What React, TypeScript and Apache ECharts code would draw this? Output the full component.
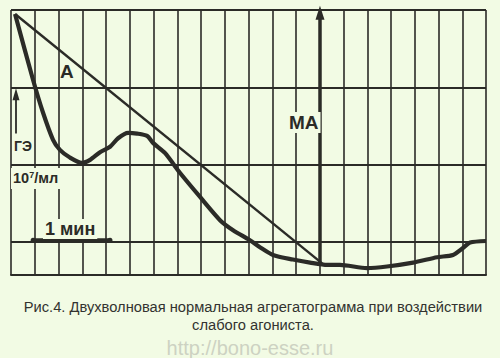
import React, { useEffect, useRef } from "react";
import * as echarts from "echarts";

// Trace of the aggregatogram (x: grid columns, y: grid units downward from the top line)
const traceX = [0.17, 0.93, 1.35, 1.77, 2.06, 2.48, 2.99, 3.33, 3.75, 4.17, 4.51, 4.93, 5.31, 5.73, 5.98, 6.48, 7.12, 7.96, 8.8, 9.35, 10.06, 10.48, 11.03, 11.87, 12.59, 13.31, 13.85, 14.99, 15.83, 16.93, 17.94, 18.61, 19.03, 19.33, 20.0];
const traceY = [0.52, 9.06, 13.3, 16.8, 18.1, 19.1, 19.8, 19.4, 18.4, 17.7, 16.6, 15.9, 16.0, 16.3, 17.2, 18.5, 21.1, 24.2, 27.2, 28.5, 29.8, 30.7, 31.7, 32.3, 32.7, 33.0, 33.0, 33.4, 33.2, 32.7, 32.0, 31.7, 30.8, 30.1, 29.9];

// Straight line "A"
const lineAX = [0.17, 13.1];
const lineAY = [0.52, 32.8];

// Arrow "MA"
const maX = 13.01;
const maY = [32.7, 0.35];

// Arrow near "ГЭ"
const geX = 0.21;
const geY = [16.0, 10.9];

// "1 мин" scale bar
const barX = [0.93, 4.17];
const barY = 29.8;

const X_MIN = 0;
const X_MAX = 20;
const Y_MIN = 0;
const Y_MAX = 34.3;

const labelA = "А";
const labelMA = "МА";
const labelGE = "ГЭ";
const labelBar = "1 мин";
const caption1 = "Рис.4. Двухволновая нормальная агрегатограмма при воздействии";
const caption2 = "слабого агониста.";
const watermark = "http://bono-esse.ru";

const BG = "#f2fbe4";
const INK = "#2b2b27";
const FONT = "'Liberation Sans', Arial, sans-serif";

export default function App() {
  const ref = useRef<HTMLDivElement>(null);
  useEffect(() => {
    document.body.style.margin = "0";
    document.body.style.background = BG;
    const chart = echarts.init(ref.current!, undefined, { renderer: "svg" });
    const txt = (text: string, x: number, y: number, font: string, fill: string, align = "left", bg?: string, extra: any = {}) => ({
      type: "text",
      x,
      y,
      z: 100,
      style: {
        text,
        font,
        fill,
        align,
        verticalAlign: "top",
        textAlign: align,
        textVerticalAlign: "top",
        backgroundColor: bg,
        padding: bg ? [1, 2] : 0,
        ...extra,
      },
    });
    chart.setOption({
      animation: false,
      backgroundColor: BG,
      grid: { left: 11, right: 14, top: 10, bottom: 83 },
      xAxis: {
        type: "value",
        min: X_MIN,
        max: X_MAX,
        interval: 1,
        axisLine: { show: true, onZero: false, lineStyle: { color: INK, width: 2 } },
        axisTick: { show: false },
        axisLabel: { show: false },
        splitLine: { show: true, lineStyle: { color: INK, width: 1.6 } },
      },
      yAxis: {
        type: "value",
        inverse: true,
        min: Y_MIN,
        max: Y_MAX,
        interval: 10,
        axisLine: { show: false },
        axisTick: { show: false },
        axisLabel: { show: false },
        splitLine: { show: true, lineStyle: { color: INK, width: 1.8 } },
      },
      series: [
        {
          type: "line",
          data: lineAX.map((x, i) => [x, lineAY[i]]),
          symbol: "none",
          lineStyle: { color: INK, width: 2.4 },
          z: 3,
        },
        {
          type: "line",
          data: traceX.map((x, i) => [x, traceY[i]]),
          symbol: "none",
          smooth: 0.25,
          lineStyle: { color: INK, width: 4.2 },
          z: 4,
          markLine: {
            silent: true,
            animation: false,
            label: { show: false },
            data: [
              [
                { coord: [maX, maY[0]], symbol: "none", lineStyle: { color: INK, width: 3.5, type: "solid" } },
                { coord: [maX, maY[1]], symbol: "triangle", symbolSize: [9, 14] },
              ],
              [
                { coord: [geX, geY[0]], symbol: "none", lineStyle: { color: INK, width: 1.8, type: "solid" } },
                { coord: [geX, geY[1]], symbol: "triangle", symbolSize: [7, 12] },
              ],
              [
                { coord: [barX[0], barY], symbol: "circle", symbolSize: 5, lineStyle: { color: INK, width: 3.5, type: "solid" } },
                { coord: [barX[1], barY], symbol: "circle", symbolSize: 5 },
              ],
            ],
          },
        },
      ],
      graphic: [
        txt(labelA, 60, 62, `bold 19px ${FONT}`, INK),
        txt(labelMA, 287, 112, `bold 19px ${FONT}`, INK, "left", BG),
        txt(labelGE, 12, 138, `bold 14px ${FONT}`, INK, "left", BG),
        {
          type: "text",
          x: 11,
          y: 168,
          z: 100,
          style: {
            text: "{a|10}{s|7}{a|/мл}",
            fill: INK,
            backgroundColor: BG,
            padding: [2, 2, 4, 2],
            rich: {
              a: { font: `bold 14.5px ${FONT}`, fill: INK, verticalAlign: "bottom" },
              s: { font: `bold 9px ${FONT}`, fill: INK, verticalAlign: "top", padding: [0, 0, 6, 0] },
            },
          },
        },
        txt(labelBar, 43, 219, `bold 18px ${FONT}`, INK, "left", BG),
        txt(caption1, 253, 299, `14.7px ${FONT}`, "#333330", "center"),
        txt(caption2, 253, 317, `14.7px ${FONT}`, "#333330", "center"),
        txt(watermark, 250, 338, `20px ${FONT}`, "#cdd2c2", "center"),
      ],
    });
    return () => chart.dispose();
  }, []);
  return <div ref={ref} style={{ width: 500, height: 358 }} />;
}
